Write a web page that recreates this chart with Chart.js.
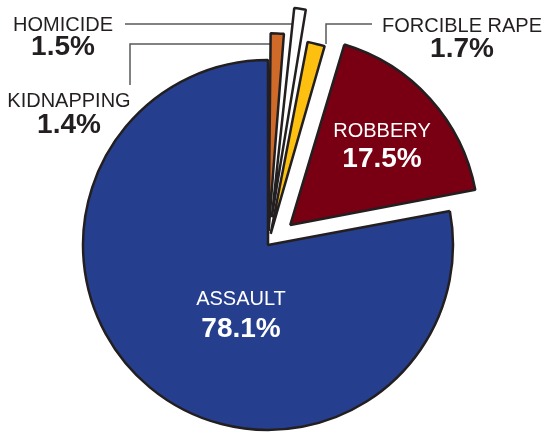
<!DOCTYPE html>
<html>
<head>
<meta charset="utf-8">
<script src="https://cdn.jsdelivr.net/npm/chart.js@4/dist/chart.umd.min.js"></script>
<style>
  html, body { margin: 0; padding: 0; background: #fff; }
  canvas { display: block; }
</style>
</head>
<body>
<canvas id="crimePie" width="543" height="433"></canvas>
<script>
const categories = ['KIDNAPPING', 'HOMICIDE', 'FORCIBLE RAPE', 'ROBBERY', 'ASSAULT'];
const shares = [1.4, 1.5, 1.7, 17.5, 78.1];
const shareLabels = ['1.4%', '1.5%', '1.7%', '17.5%', '78.1%'];
const sliceColors = ['#cf6a28', '#ffffff', '#fdc010', '#780012', '#253f8e'];
const sliceOffsets = [56, 112, 46, 120, 0];

const FONT = '"Liberation Sans", Arial, Helvetica, sans-serif';
const INK = '#231f20';

// where each label goes, and its leader line (null = label sits inside slice)
const labelSpots = [
    { x: 69, y: 101, vy: 125, color: INK, line: [[130, 85], [130, 44], [274, 44]] },
    { x: 63, y: 25, vy: 47, color: INK, line: [[125, 24], [296, 24]] },
    { x: 462, y: 26, vy: 49, color: INK, line: [[372, 24], [326, 24], [326, 44]] },
    { x: 382, y: 131, vy: 159, color: '#ffffff', line: null },
    { x: 241, y: 299, vy: 329, color: '#ffffff', line: null }
];

const labelPlugin = {
    id: 'pieLabels',
    beforeDatasetsDraw(chart) {
        const ctx = chart.ctx;
        ctx.save();
        ctx.strokeStyle = '#58595b';
        ctx.lineWidth = 1.5;
        labelSpots.forEach(spot => {
            if (!spot.line) return;
            ctx.beginPath();
            spot.line.forEach((p, i) => {
                if (i === 0) ctx.moveTo(p[0], p[1]);
                else ctx.lineTo(p[0], p[1]);
            });
            ctx.stroke();
        });
        ctx.restore();
    },
    afterDatasetsDraw(chart) {
        const ctx = chart.ctx;
        ctx.save();
        ctx.textAlign = 'center';
        ctx.textBaseline = 'middle';
        labelSpots.forEach((spot, i) => {
            ctx.fillStyle = spot.color;
            ctx.font = '20px ' + FONT;
            ctx.fillText(categories[i], spot.x, spot.y);
            ctx.font = 'bold 28px ' + FONT;
            ctx.fillText(shareLabels[i], spot.x, spot.vy);
        });
        ctx.restore();
    }
};

new Chart(document.getElementById('crimePie'), {
    type: 'pie',
    data: {
        labels: categories,
        datasets: [{
            data: shares,
            backgroundColor: sliceColors,
            borderColor: INK,
            borderWidth: 2.5,
            offset: sliceOffsets
        }]
    },
    options: {
        responsive: false,
        animation: false,
        devicePixelRatio: 1,
        radius: 185,
        layout: { padding: { left: 0, right: 7, top: 57, bottom: 0 } },
        plugins: {
            legend: { display: false },
            tooltip: { enabled: false },
            title: { display: false }
        }
    },
    plugins: [labelPlugin]
});
</script>
</body>
</html>
